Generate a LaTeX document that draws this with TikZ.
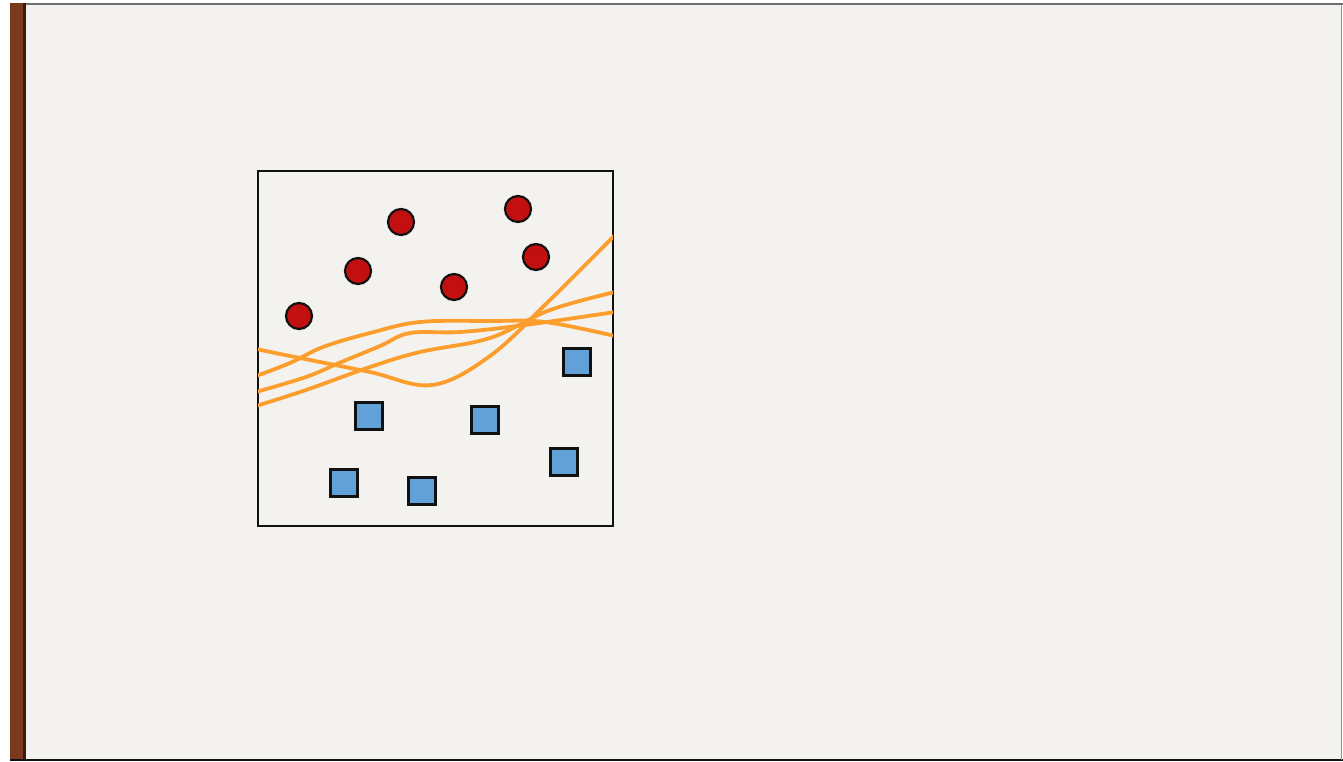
\documentclass[tikz,border=0pt]{standalone}
\usetikzlibrary{positioning}
\definecolor{pageBg}{HTML}{F3F2EF}
\definecolor{spineBrown}{HTML}{7A3A1E}
\definecolor{spineEdge}{HTML}{3A1A0C}
\definecolor{frameGray}{HTML}{6E6E6E}
\definecolor{plotInk}{HTML}{111111}
\definecolor{classRed}{HTML}{C20F10}
\definecolor{classBlue}{HTML}{62A0D8}
\definecolor{boundOrange}{HTML}{FC9E2E}
\tikzset{
  plot frame/.style={draw=plotInk, line width=1.3pt, fill=pageBg},
  red point/.style={circle, draw=plotInk, line width=2.2pt, fill=classRed,
    minimum size=26pt, inner sep=0pt},
  blue point/.style={rectangle, draw=plotInk, line width=2.2pt, fill=classBlue,
    minimum size=27pt, inner sep=0pt},
  boundary/.style={draw=boundOrange, line width=3.8pt, line cap=round}
}

\begin{document}
\begin{tikzpicture}[x=1pt,y=-1pt]
  \useasboundingbox (0,0) rectangle (1343,761);
  % page and spine
  \fill[white] (0,0) rectangle (1343,761);
  \fill[pageBg] (10,3) rectangle (1342,760);
  \fill[spineBrown] (10,3) rectangle (24,760);
  \fill[spineEdge] (23,3) rectangle (26,760);
  \draw[frameGray,line width=2pt] (26,4) -- (1343,4);
  \draw[plotInk,line width=2pt] (10,760) -- (1343,760);
  \draw[spineBrown!60,line width=1.5pt] (1341.5,4) -- (1341.5,760);
  % plot area
  \draw[plot frame] (258,171) rectangle (613,526);
  \begin{scope}
    \clip (258,171) rectangle (613,526);
    \draw[boundary] plot[smooth,tension=0.6] coordinates
      {(256,349) (300,358) (370,372) (432,385) (490,356) (550,300) (615,235)};
    \draw[boundary] plot[smooth,tension=0.6] coordinates
      {(256,376) (290,363) (323,347) (370,333) (420,322) (490,321) (545,322) (615,336)};
    \draw[boundary] plot[smooth,tension=0.6] coordinates
      {(256,392) (306,377) (339,363) (380,346) (410,333) (460,332) (525,325) (615,312)};
    \draw[boundary] plot[smooth,tension=0.6] coordinates
      {(256,406) (306,390) (370,367) (420,352) (490,338) (550,310) (615,292)};
  \end{scope}
  % red class
  \node[red point] (c1) at (299,316) {};
  \node[red point] (c2) at (358,271) {};
  \node[red point] (c3) at (401,222) {};
  \node[red point] (c4) at (454,287) {};
  \node[red point] (c5) at (518,209) {};
  \node[red point] (c6) at (536,257) {};
  % blue class
  \node[blue point] (s1) at (577,362) {};
  \node[blue point] (s2) at (369,416) {};
  \node[blue point] (s3) at (485,420) {};
  \node[blue point] (s4) at (564,462) {};
  \node[blue point] (s5) at (344,483) {};
  \node[blue point] (s6) at (422,491) {};
\end{tikzpicture}
\end{document}
